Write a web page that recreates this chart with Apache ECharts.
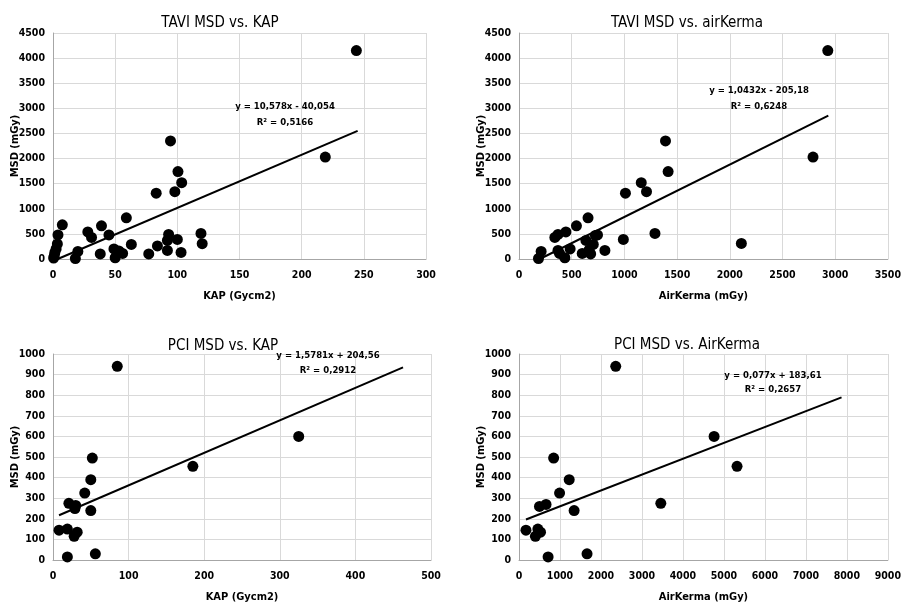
<!DOCTYPE html>
<html>
<head>
<meta charset="utf-8">
<script src="https://cdn.jsdelivr.net/npm/echarts@6/dist/echarts.min.js"></script>
<style>
  html, body { margin: 0; padding: 0; background: #fff; }
  #chart { width: 904px; height: 604px; }
</style>
</head>
<body>
<div id="chart"></div>
<script>
// TAVI: MSD (mGy) against KAP (Gycm2)
const taviKap = [
  [244, 4150], [219, 2030], [94.5, 2350], [100.5, 1740], [103.5, 1520], [98, 1340],
  [83, 1310], [59, 820], [7.5, 680], [4, 480], [3.5, 300], [2.5, 200], [1.5, 130],
  [1, 60], [0.5, 20], [28, 540], [31, 430], [39, 660], [45, 480], [38, 100],
  [49, 200], [50, 25], [53, 160], [56, 110], [63, 290], [20, 150], [18, 10],
  [77, 100], [84, 260], [93, 490], [92, 370], [92, 170], [100, 390], [103, 130],
  [119, 510], [120, 305]
];
// TAVI: MSD (mGy) against air kerma (mGy)
const taviAk = [
  [2930, 4150], [2790, 2030], [1390, 2350], [1415, 1740], [1160, 1520], [1210, 1340],
  [1010, 1310], [655, 820], [545, 660], [445, 540], [370, 490], [340, 430],
  [1290, 510], [990, 390], [2110, 310], [745, 480], [635, 370], [705, 290],
  [815, 170], [485, 200], [370, 170], [385, 110], [435, 25], [210, 150], [185, 10],
  [600, 110], [680, 100], [665, 180], [725, 470]
];
// PCI: MSD (mGy) against KAP (Gycm2)
const pciKap = [
  [85, 940], [325, 600], [185, 455], [52, 495], [50, 390], [42, 325], [21, 275],
  [30, 265], [29, 250], [50, 240], [8, 145], [19, 150], [28, 115], [32, 135],
  [19, 15], [56, 30]
];
// PCI: MSD (mGy) against air kerma (mGy)
const pciAk = [
  [2360, 940], [4760, 600], [5320, 455], [3460, 275], [845, 495], [1225, 390],
  [990, 325], [660, 270], [500, 260], [1345, 240], [170, 145], [460, 150],
  [525, 135], [400, 115], [710, 15], [1660, 30]
];

// Linear fits: [slope, intercept], drawn over [xStart, xEnd]
const fitTaviKap = [10.578, -40.054];
const fitTaviAk = [1.0432, -205.18];
const fitPciKap = [1.5781, 204.56];
const fitPciAk = [0.077, 183.61];
const spanTaviKap = [3.8, 245];
const spanTaviAk = [197, 2935];
const spanPciKap = [8, 463];
const spanPciAk = [170, 7870];

const eqTaviKap = ['y = 10,578x - 40,054', 'R² = 0,5166'];
const eqTaviAk = ['y = 1,0432x - 205,18', 'R² = 0,6248'];
const eqPciKap = ['y = 1,5781x + 204,56', 'R² = 0,2912'];
const eqPciAk = ['y = 0,077x + 183,61', 'R² = 0,2657'];

const titles = ['TAVI MSD vs. KAP', 'TAVI MSD vs. airKerma', 'PCI MSD vs. KAP', 'PCI MSD vs. AirKerma'];
const xNames = ['KAP (Gycm2)', 'AirKerma (mGy)', 'KAP (Gycm2)', 'AirKerma (mGy)'];
const yName = 'MSD (mGy)';

const FONT = '"DejaVu Sans Condensed", "Liberation Sans", sans-serif';

const grids = [
  { left: 53, top: 33, width: 373, height: 226 },
  { left: 519, top: 33, width: 372, height: 226 },
  { left: 53, top: 354, width: 378, height: 208 },
  { left: 519, top: 354, width: 373, height: 208 }
];
const xRanges = [[0, 300, 50], [0, 3500, 500], [0, 500, 100], [0, 9000, 1000]];
const yRanges = [[0, 4500, 500], [0, 4500, 500], [0, 1000, 100], [0, 1000, 100]];

function fitLine(fit, span) {
  return span.map(x => [x, fit[0] * x + fit[1]]);
}

const plain = v => String(v);

const axisCommon = {
  axisLine: { show: true, lineStyle: { color: '#a6a6a6', width: 1 } },
  axisTick: { show: false },
  splitLine: { show: true, lineStyle: { color: '#d9d9d9', width: 1 } },
  axisLabel: { color: '#000', fontFamily: FONT, fontWeight: 'bold', fontSize: 10.5, formatter: plain },
  nameTextStyle: { color: '#000', fontFamily: FONT, fontWeight: 'bold', fontSize: 11 },
  nameMoveOverlap: false
};

const xAxes = xRanges.map((r, i) => Object.assign({}, axisCommon, {
  type: 'value', gridIndex: i, min: r[0], max: r[1], interval: r[2],
  name: xNames[i], nameLocation: 'middle', nameGap: 32,
  axisLabel: Object.assign({}, axisCommon.axisLabel, { margin: 11 })
}));
const yAxes = yRanges.map((r, i) => Object.assign({}, axisCommon, {
  type: 'value', gridIndex: i, min: r[0], max: r[1], interval: r[2],
  name: yName, nameLocation: 'middle', nameRotate: 90, nameGap: 32,
  axisLabel: Object.assign({}, axisCommon.axisLabel, { margin: 8 })
}));

const scatterSets = [taviKap, taviAk, pciKap, pciAk];
const fits = [[fitTaviKap, spanTaviKap], [fitTaviAk, spanTaviAk], [fitPciKap, spanPciKap], [fitPciAk, spanPciAk]];

const series = [];
scatterSets.forEach((d, i) => {
  series.push({
    type: 'scatter', xAxisIndex: i, yAxisIndex: i, data: d,
    symbolSize: 11, itemStyle: { color: '#000', opacity: 1 }, silent: true, z: 3
  });
  series.push({
    type: 'line', xAxisIndex: i, yAxisIndex: i, data: fitLine(fits[i][0], fits[i][1]),
    showSymbol: false, symbol: 'none', lineStyle: { color: '#000', width: 2 },
    silent: true, z: 4, clip: true
  });
});

const titleCenters = [[215, 11], [682, 11], [218, 334], [682, 333]];
const title = titles.map((t, i) => ({
  text: t, left: titleCenters[i][0], top: titleCenters[i][1], textAlign: 'center',
  textStyle: { fontFamily: FONT, fontSize: 15, fontWeight: 'normal', color: '#000' }
}));

const eqs = [eqTaviKap, eqTaviAk, eqPciKap, eqPciAk];
const eqPos = [[285, 107, 123], [759, 91, 107], [328, 356, 371], [773, 376, 390]];
const graphic = [];
eqs.forEach((e, i) => {
  [0, 1].forEach(k => {
    graphic.push({
      type: 'text', x: eqPos[i][0], y: eqPos[i][k + 1],
      style: {
        text: e[k], fill: '#000', font: 'bold 9.5px ' + FONT,
        textAlign: 'center', textVerticalAlign: 'middle'
      }, silent: true, z: 10
    });
  });
});

const chart = echarts.init(document.getElementById('chart'), null, { renderer: 'canvas' });
chart.setOption({
  animation: false,
  backgroundColor: '#fff',
  title, grid: grids, xAxis: xAxes, yAxis: yAxes, series, graphic
});
</script>
</body>
</html>
